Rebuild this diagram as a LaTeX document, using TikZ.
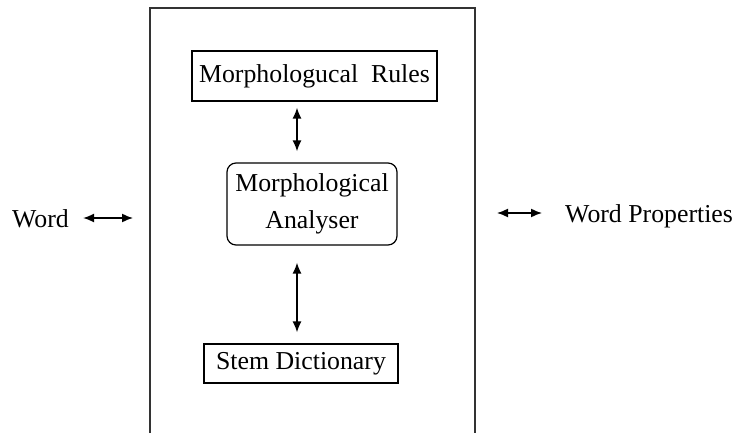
\documentclass[tikz,border=0pt]{standalone}
\usepackage{fontspec}
\setmainfont{Liberation Serif}
\usepackage{tikz}
\usetikzlibrary{arrows.meta,positioning}

\begin{document}
\begin{tikzpicture}[x=1pt,y=-1pt,
  txt/.style={font=\fontsize{25.8}{37}\selectfont},
  blk/.style={draw, line width=1.2pt, txt, inner sep=0pt},
  arr/.style={{Latex[length=11pt,width=9pt]}-{Latex[length=11pt,width=9pt]}, line width=1.5pt}]
\useasboundingbox (0,0) rectangle (735,433);
% System frame (open at the bottom)
\coordinate (tl) at (150,8);
\coordinate (tr) at (475,8);
\coordinate (bl) at (150,433);
\coordinate (br) at (475,433);
\draw[line width=1.4pt, black!80] (bl) -- (tl) -- (tr) -- (br);
% Components
\node[blk, minimum width=245pt, minimum height=50pt] (rules) at (314.5,76) {Morphologucal\ \ Rules};
\node[blk, rounded corners=9pt, minimum width=170pt, minimum height=82pt, align=center] (ana) at (312,204) {Morphological\\Analyser};
\node[blk, minimum width=194pt, minimum height=39pt] (stem) at (301,363.5) {Stem Dictionary};
% Input / output
\node[txt, anchor=base west, inner sep=0pt] (word) at (12,227) {Word};
\node[txt, anchor=base west, inner sep=0pt] (props) at (565,222) {Word Properties};
\coordinate (inL) at (133,218);
\coordinate (inR) at (497,213);
% Links
\draw[arr, shorten <=6pt, shorten >=11pt] ([xshift=-17.5pt]rules.south) -- ([xshift=-15pt]ana.north);
\draw[arr, shorten <=17pt, shorten >=11pt] ([xshift=-15pt]ana.south) -- ([xshift=-4pt]stem.north);
\draw[arr, shorten <=14pt] (word.east |- inL) -- (inL);
\draw[arr, shorten >=23pt] (inR) -- (props.west |- inR);
\end{tikzpicture}
\end{document}
